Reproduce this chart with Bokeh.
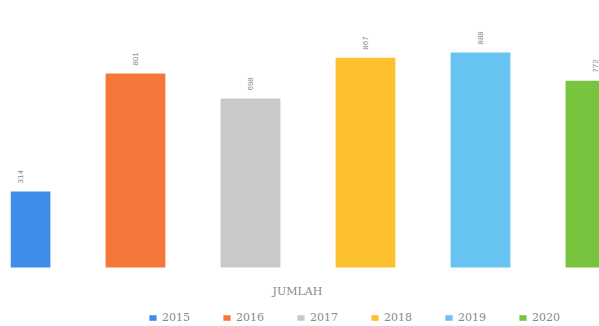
import math
from bokeh.plotting import figure
from bokeh.models import ColumnDataSource, Legend, LegendItem, Label
from bokeh.embed import file_html
from bokeh.resources import INLINE

years = ["2015", "2016", "2017", "2018", "2019", "2020"]
values = [314, 801, 698, 867, 888, 772]
colors = ["#3f8de8", "#f6773a", "#c9c9c9", "#fdc02f", "#67c4f1", "#79c43f"]
xpos = [0, 1, 2, 3, 4, 5]

p = figure(width=599, height=326, output_backend="svg", toolbar_location=None,
           x_range=(-0.087, 5.035), y_range=(-243.7, 1103),
           min_border_left=10, min_border_right=0, min_border_top=0, min_border_bottom=0)
p.axis.visible = False
p.grid.visible = False
p.outline_line_color = None

src = ColumnDataSource(dict(x=xpos, top=values, color=colors, year=years,
                            label=[str(v) for v in values]))
renderers = []
for i in range(len(years)):
    r = p.vbar(x=[xpos[i]], top=[values[i]], width=0.52, bottom=0,
               color=colors[i], line_color=None)
    renderers.append(r)

p.text(x="x", y="top", text="label", source=src, angle=math.pi / 2,
       text_align="left", text_baseline="middle", y_offset=-8,
       text_font_size="8px", text_color="#8a8a8a")

p.add_layout(Label(x=287, y=35, x_units="screen", y_units="screen", text="JUMLAH",
                   text_font_size="11px", text_font="DejaVu Serif", text_color="#888888",
                   text_align="center", text_baseline="middle"))

legend = Legend(items=[LegendItem(label=years[i], renderers=[renderers[i]]) for i in range(6)],
                orientation="horizontal", location=(138, 2),
                label_text_font_size="11px", label_text_font="DejaVu Serif",
                label_text_color="#888888",
                glyph_width=9, glyph_height=7, label_standoff=5, spacing=32,
                padding=0, margin=0, border_line_color=None, background_fill_alpha=0)
p.add_layout(legend, "center")

open("out.html", "w").write(file_html(p, INLINE))
